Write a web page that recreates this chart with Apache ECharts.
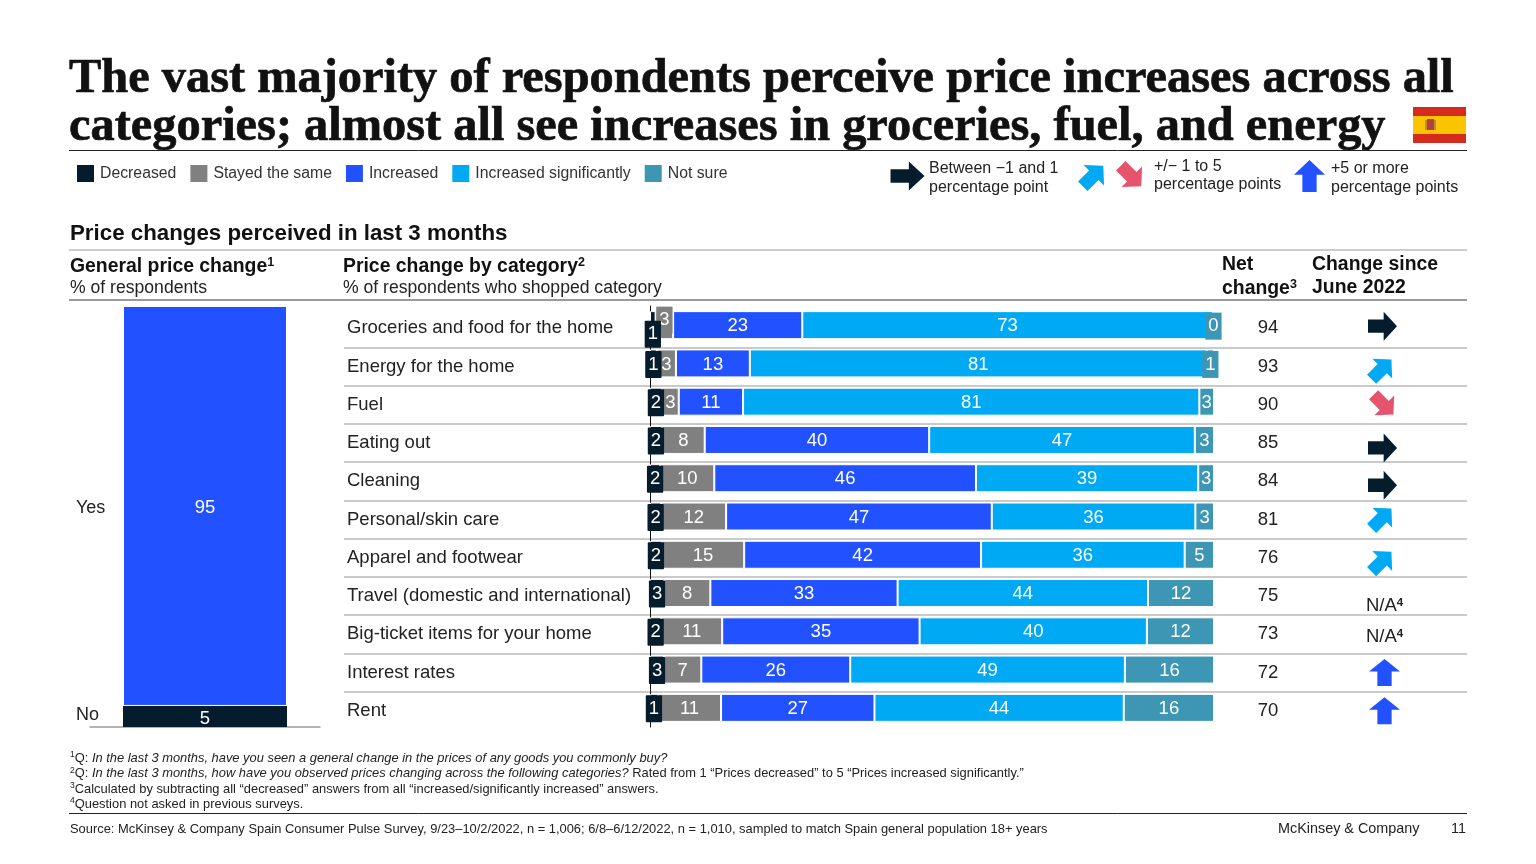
<!DOCTYPE html>
<html><head><meta charset="utf-8">
<style>html,body{margin:0;padding:0;background:#fff}#c{width:1536px;height:864px}</style>
<script src="https://cdn.jsdelivr.net/npm/echarts@6/dist/echarts.min.js"></script>
</head><body><div id="c"></div>
<script>
const categories=['Groceries and food for the home','Energy for the home','Fuel','Eating out','Cleaning','Personal/skin care','Apparel and footwear','Travel (domestic and international)','Big-ticket items for your home','Interest rates','Rent'];
const decreased=[1.0,1.2,2.1,2.1,1.8,2.0,2.1,2.5,2.0,2.5,1.4];
const stayedSame=[3.1,3.4,3.0,7.6,9.6,11.5,14.6,8.2,10.8,6.6,11.2];
const increased=[22.9,13.1,11.4,39.8,46.4,47.1,42.0,33.2,35.0,26.4,27.2];
const increasedSig=[72.8,81.0,80.9,47.1,39.4,36.1,36.1,44.4,40.3,48.7,44.2];
const notSure=[0.2,1.3,2.6,3.4,2.8,3.3,5.2,11.7,11.9,15.8,16.0];
const netChange=['94','93','90','85','84','81','76','75','73','72','70'];
const changeSince=['flat','up','down','flat','flat','up','up','na','na','bigup','bigup'];
const generalYes=[95];
const generalNo=[5];
const generalLabels=['Yes','No'];

const NAVY='#051c2c',GRAY='#808080',BLUE='#2251ff',CYAN='#00a9f4',TEAL='#3c96b4',PINK='#e5546c';
const FF='"Liberation Sans",Arial,sans-serif';
const arrowPath='path://M0 27 H54 V0 L100 50 L54 100 V73 H0 Z';
const arrowStyle={
  flat:{color:NAVY,rot:0,size:[29,29],dx:0},
  up:{color:CYAN,rot:45,size:[28,28],dx:-1},
  down:{color:PINK,rot:-45,size:[28,28],dx:1},
  bigup:{color:BLUE,rot:90,size:[27,31],dx:2}
};
const arrowNudge=[1,6,3,8,7,2,7,13,6,3,3];

const rowCols=[decreased,stayedSame,increased,increasedSig,notSure];
const names=['Decreased','Stayed the same','Increased','Increased significantly','Not sure'];
const colors=[NAVY,GRAY,BLUE,CYAN,TEAL];
function stackSeries(si){
  return {name:names[si],type:'bar',stack:'cat',xAxisIndex:1,yAxisIndex:1,barWidth:28,z:si===0?5:3,
    itemStyle:{color:colors[si],borderColor:'#fff',borderWidth:1},
    label:{show:true,position:'inside',color:'#fff',fontFamily:FF,fontSize:18.5,offset:[0,1],
      formatter:p=>String(Math.round(p.value))},
    data:rowCols[si].map((v,i)=>{
      const d={value:v};
      if(si===0) d.label={backgroundColor:NAVY,padding:[4,3,4,3],borderRadius:1,offset:[0,i===0?9:1]};
      if(si===1&&i===0) d.label={backgroundColor:GRAY,padding:[4,3,4,3],offset:[0,-5]};
      if(si===4&&v<2) d.label={backgroundColor:TEAL,padding:[4,3,4,3],offset:[0,1]};
      return d;
    })};
}

function txt(x,y,text,o={}){
  return {type:'text',x,y:y+1,silent:true,z:20,style:Object.assign({text,fontFamily:FF,fontSize:16,fill:'#222',verticalAlign:'middle',align:'left'},o)};
}
function hline(x1,x2,y,color,w){
  return {type:'line',silent:true,z:1,shape:{x1,y1:y,x2,y2:y},style:{stroke:color,lineWidth:w}};
}
function keyArrow(cx,cy,w,h,rotDeg,fill){
  return {type:'polygon',silent:true,z:20,x:cx,y:cy,rotation:rotDeg*Math.PI/180,
    shape:{points:[[-w/2,-h*0.23],[w*0.04,-h*0.23],[w*0.04,-h/2],[w/2,0],[w*0.04,h/2],[w*0.04,h*0.23],[-w/2,h*0.23]]},style:{fill}};
}
const FS=12.9;
const fnRich={
  i:{fontFamily:FF,fontSize:FS,fontStyle:'italic',fill:'#222'},
  s:{fontFamily:FF,fontSize:8.5,fill:'#222',verticalAlign:'top',lineHeight:15}
};
const fnS={fontSize:FS,fill:'#222',lineHeight:15,rich:fnRich};
const HB={fontSize:19.4,fontWeight:'bold',fill:'#111',rich:{s:{fontFamily:FF,fontSize:12.5,fontWeight:'bold',fill:'#111',verticalAlign:'top',lineHeight:22}},lineHeight:22};

const graphic=[
  hline(69,1467,150.5,'#222',1),
  hline(69,1467,250,'#9a9a9a',1),
  hline(69,1467,300,'#9a9a9a',2),
  hline(69,1467,813.5,'#222',1),
  {type:'rect',silent:true,z:20,shape:{x:1413,y:107,width:53,height:36},style:{fill:'#d52b1e'}},
  {type:'rect',silent:true,z:21,shape:{x:1413,y:116,width:53,height:18},style:{fill:'#fbc400'}},
  {type:'rect',silent:true,z:22,shape:{x:1425,y:120,width:2,height:10},style:{fill:'#c08a4a'}},
  {type:'rect',silent:true,z:22,shape:{x:1427,y:119,width:7,height:11},style:{fill:'#b5423a'}},
  {type:'rect',silent:true,z:22,shape:{x:1434,y:120,width:2,height:10},style:{fill:'#c08a4a'}},
  keyArrow(907.5,176,34,29,0,NAVY),
  keyArrow(1093,176,29,29,45,CYAN),
  keyArrow(1131,176,29,29,-45,PINK),
  keyArrow(1309.5,176,32,31,90,BLUE),
  txt(929,168,'Between −1 and 1'),txt(929,187,'percentage point'),
  txt(1154,166,'+/− 1 to 5'),txt(1154,184,'percentage points'),
  txt(1331,168,'+5 or more'),txt(1331,187,'percentage points'),
  txt(70,233,'Price changes perceived in last 3 months',{fontSize:22.3,fontWeight:'bold',fill:'#111'}),
  txt(70,266,'General price change{s|1}',HB),
  txt(70,287,'% of respondents',{fontSize:17.6}),
  txt(343,266,'Price change by category{s|2}',HB),
  txt(343,287,'% of respondents who shopped category',{fontSize:17.6}),
  txt(1222,264,'Net',HB),
  txt(1222,288,'change{s|3}',HB),
  txt(1312,264,'Change since',HB),
  txt(1312,287,'June 2022',HB),
  txt(70,757,'{s|1}Q: {i|In the last 3 months, have you seen a general change in the prices of any goods you commonly buy?}',fnS),
  txt(70,772.5,'{s|2}Q: {i|In the last 3 months, how have you observed prices changing across the following categories?} Rated from 1 “Prices decreased” to 5 “Prices increased significantly.”',fnS),
  txt(70,788,'{s|3}Calculated by subtracting all “decreased” answers from all “increased/significantly increased” answers.',fnS),
  txt(70,803,'{s|4}Question not asked in previous surveys.',fnS),
  txt(70,828,'Source: McKinsey & Company Spain Consumer Pulse Survey, 9/23–10/2/2022, n = 1,006; 6/8–6/12/2022, n = 1,010, sampled to match Spain general population 18+ years',{fontSize:FS}),
  txt(1278,828.5,'McKinsey & Company',{fontSize:14.4}),
  txt(1451,828.5,'11',{fontSize:14.4})
];

const option={
  animation:false,
  backgroundColor:'#fff',
  textStyle:{fontFamily:FF},
  title:{text:'The vast majority of respondents perceive price increases across all\ncategories; almost all see increases in groceries, fuel, and energy',
    left:69,top:55,padding:0,
    textStyle:{fontFamily:'"Liberation Serif",Georgia,serif',fontWeight:'bold',fontSize:48.4,lineHeight:48,color:'#111',textBorderColor:'#111',textBorderWidth:0.7}},
  legend:{left:77,top:165,padding:0,itemWidth:17,itemHeight:17,itemGap:14,selectedMode:false,icon:'rect',
    itemStyle:{borderWidth:0},
    data:names,textStyle:{fontFamily:FF,fontSize:15.8,color:'#333',padding:[2,0,0,1]}},
  grid:[
    {left:90,width:230,top:306,height:421},
    {left:650,width:564,top:306,height:421},
    {left:344,width:1123,top:309,height:421},
    {left:1298,width:169,top:306,height:421}
  ],
  xAxis:[
    {gridIndex:0,type:'category',data:['General price change'],axisTick:{show:false},axisLabel:{show:false},
      axisLine:{show:true,lineStyle:{color:'#9a9a9a',width:1.5}}},
    {gridIndex:1,type:'value',min:0,max:100,show:false},
    {gridIndex:2,type:'value',min:0,max:100,show:false},
    {gridIndex:3,type:'category',data:['Change since June 2022'],show:false}
  ],
  yAxis:[
    {gridIndex:0,type:'value',min:0,max:100,splitLine:{show:false},axisLine:{show:false},axisTick:{show:false},
      axisLabel:{show:true,customValues:[52,2.8],margin:14,align:'left',fontFamily:FF,fontSize:18,color:'#222',
        formatter:v=>v>50?generalLabels[0]:generalLabels[1]}},
    {gridIndex:1,type:'category',inverse:true,data:categories,
      axisLine:{show:true,onZero:false,lineStyle:{color:'#111',width:1}},axisTick:{show:false},splitLine:{show:false},
      axisLabel:{show:false}},
    {gridIndex:2,type:'category',inverse:true,position:'right',data:netChange,
      axisLine:{show:false},axisTick:{show:false},splitLine:{show:false},
      axisLabel:{interval:0,inside:true,margin:199,align:'center',fontFamily:FF,fontSize:18.5,color:'#222'}},
    {gridIndex:2,type:'category',inverse:true,data:categories,axisLine:{show:false},axisTick:{show:false},
      axisLabel:{interval:0,inside:true,margin:3,align:'left',fontFamily:FF,fontSize:18.5,color:'#222'},
      splitLine:{show:true,interval:0,showMinLine:false,showMaxLine:false,lineStyle:{color:'#b9b9b9',width:1.5}}},
    {gridIndex:3,type:'category',inverse:true,data:categories,show:false}
  ],
  series:[
    {name:'No',type:'bar',stack:'gen',xAxisIndex:0,yAxisIndex:0,barWidth:164,
      itemStyle:{color:NAVY},
      label:{show:true,position:'inside',color:'#fff',fontFamily:FF,fontSize:18.5,offset:[0,2]},data:generalNo},
    {name:'Yes',type:'bar',stack:'gen',xAxisIndex:0,yAxisIndex:0,barWidth:164,
      itemStyle:{color:BLUE,borderColor:'#fff',borderWidth:1},
      label:{show:true,position:'inside',color:'#fff',fontFamily:FF,fontSize:18.5,offset:[0,2]},data:generalYes},
    ...[0,1,2,3,4].map(stackSeries),
    {name:'Change since June 2022',type:'scatter',xAxisIndex:3,yAxisIndex:4,z:6,itemStyle:{opacity:1},
      data:categories.map((c,i)=>{
        const k=changeSince[i];
        if(k==='na') return {value:['Change since June 2022',c],symbol:'rect',symbolSize:[1,1],itemStyle:{color:'rgba(0,0,0,0)'},
          label:{show:true,position:'inside',formatter:'N/A{s|4}',fontFamily:FF,fontSize:18.5,color:'#222',offset:[2,arrowNudge[i]],
            rich:{s:{fontFamily:FF,fontSize:11.5,fontWeight:'bold',color:'#222',verticalAlign:'top',lineHeight:18}}}};
        const s=arrowStyle[k];
        return {value:['Change since June 2022',c],symbol:arrowPath,symbolSize:s.size,symbolRotate:s.rot,
          symbolOffset:[s.dx,arrowNudge[i]],itemStyle:{color:s.color,opacity:1}};
      })}
  ],
  graphic:{elements:graphic}
};
echarts.init(document.getElementById('c'),null,{renderer:'canvas'}).setOption(option);
</script></body></html>
